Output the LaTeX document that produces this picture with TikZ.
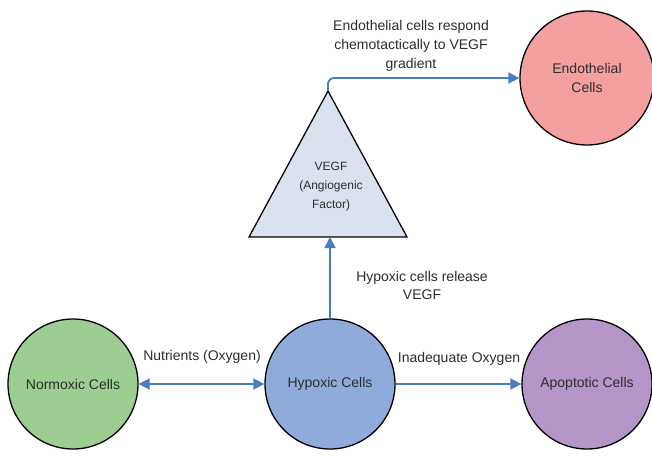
\documentclass[tikz,border=0pt]{standalone}
\usepackage{fontspec}
\setmainfont{Liberation Sans}
\usetikzlibrary{arrows.meta}
\definecolor{cgreen}{RGB}{156,206,146}
\definecolor{cblue}{RGB}{143,171,219}
\definecolor{cpurple}{RGB}{181,150,200}
\definecolor{cpink}{RGB}{245,160,160}
\definecolor{ctri}{RGB}{218,226,240}
\definecolor{carrow}{RGB}{74,124,192}
\definecolor{ctext}{RGB}{45,45,45}
\tikzset{
  cell/.style={circle, draw=black, line width=1.3pt, minimum size=130pt, inner sep=0pt, align=center, text=ctext, font=\fontsize{14}{19}\selectfont},
  arr/.style={draw=carrow, line width=1.8pt, -{Triangle[length=11pt,width=11pt]}},
  lbl/.style={align=center, text=ctext, font=\fontsize{14}{19}\selectfont}
}
\begin{document}
\begin{tikzpicture}[x=1pt,y=-1pt]
\useasboundingbox (0,0) rectangle (652,455);
\node[cell, fill=cgreen] (norm) at (73,384) {Normoxic Cells};
\node[cell, fill=cblue] (hyp) at (330,384) {Hypoxic Cells};
\node[cell, fill=cpurple] (apop) at (587,384) {Apoptotic Cells};
\node[cell, fill=cpink, minimum size=134pt] (endo) at (587,78) {Endothelial\\Cells};
\coordinate (apex) at (328,91);
\coordinate (bl) at (249,237);
\coordinate (br) at (407,237);
\coordinate (basemid) at (328,237);
\draw[fill=ctri, line width=1.3pt, line join=miter] (apex) -- (bl) -- (br) -- cycle;
\node[lbl, font=\fontsize{12}{19}\selectfont] (vegf) at (331,187) {VEGF\\(Angiogenic\\Factor)};
\draw[arr, {Triangle[length=11pt,width=11pt]}-{Triangle[length=11pt,width=11pt]}] (norm) -- (hyp);
\draw[arr] (hyp) -- (hyp |- basemid);
\draw[arr] (hyp) -- (apop);
\draw[arr, rounded corners=6pt] (apex) |- (endo.west);
\node[lbl] (l1) at (202,357) {Nutrients (Oxygen)};
\node[lbl] (l2) at (459,359) {Inadequate Oxygen};
\node[lbl, font=\fontsize{14}{18}\selectfont] (l3) at (422,285) {Hypoxic cells release\\VEGF};
\node[lbl] (l4) at (411,46) {Endothelial cells respond\\chemotactically to VEGF\\gradient};
\end{tikzpicture}
\end{document}
